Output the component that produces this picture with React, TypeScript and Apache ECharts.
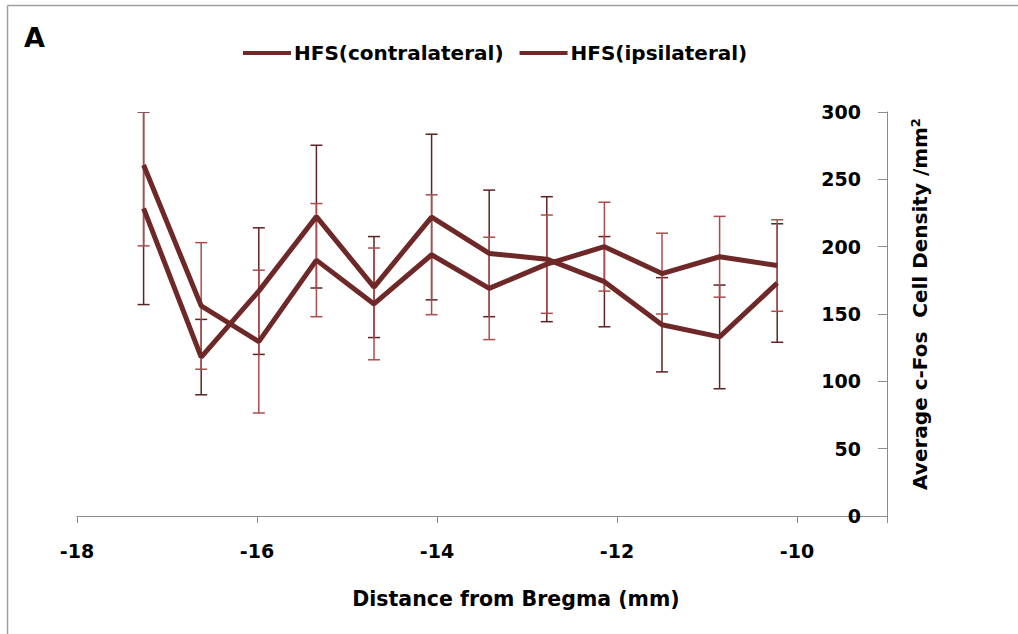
import React, { useEffect, useRef } from "react";
import * as echarts from "echarts";

// Distance from Bregma (mm)
const distances = [-17.26, -16.62, -15.98, -15.34, -14.7, -14.06, -13.42, -12.78, -12.14, -11.5, -10.86, -10.22];
// HFS (contralateral)
const contraMean = [260.6, 156, 129.5, 190, 157.5, 194, 169, 187, 200, 180, 192.5, 186];
const contraErr = [60, 47, 53, 42, 41.5, 44.5, 38, 36.5, 33, 30, 30, 34];
// HFS (ipsilateral)
const ipsiMean = [228.5, 118, 167, 222.3, 170, 222, 195, 190.7, 174, 142, 133, 173];
const ipsiErr = [71.5, 28, 47, 53, 37.5, 61.5, 47, 46.4, 33.5, 35, 38.5, 44];

const seriesNames = ["HFS(contralateral)", "HFS(ipsilateral)"];
const xTicks = { min: -18, max: -9, interval: 2 };
const yTicks = { min: 0, max: 300, interval: 50 };

const FONT = "DejaVu Sans";
const LINE_COLOR = "#6e2828";
const ERR_LIGHT = "#ad4c4c";
const ERR_DARK = "#5e2222";
const AXIS_COLOR = "#8c8c8c";

function errorSeries(means: number[], errs: number[], color: string, z: number) {
  return {
    type: "custom",
    name: "err" + z,
    z,
    clip: true,
    silent: true,
    encode: { x: 0, y: [1, 2] },
    data: distances.map((x, i) => [x, means[i] - errs[i], means[i] + errs[i]]),
    renderItem: (params: any, api: any) => {
      const x = api.value(0);
      const lo = api.coord([x, api.value(1)]);
      const hi = api.coord([x, api.value(2)]);
      const hw = 6;
      const style = { stroke: color, lineWidth: 1.5 };
      return {
        type: "group",
        children: [
          { type: "line", shape: { x1: hi[0], y1: hi[1], x2: lo[0], y2: lo[1] }, style },
          { type: "line", shape: { x1: hi[0] - hw, y1: hi[1], x2: hi[0] + hw, y2: hi[1] }, style },
          { type: "line", shape: { x1: lo[0] - hw, y1: lo[1], x2: lo[0] + hw, y2: lo[1] }, style },
        ],
      };
    },
  };
}

export default function App() {
  const ref = useRef<HTMLDivElement>(null);
  useEffect(() => {
    document.body.style.margin = "0";
    if (!ref.current) return;
    const chart = echarts.init(ref.current, undefined, { renderer: "svg" });
    chart.setOption({
      animation: false,
      backgroundColor: "#ffffff",
      grid: { left: 77, right: 131, top: 112, bottom: 118, containLabel: false },
      legend: {
        data: seriesNames,
        left: 238,
        top: 38,
        icon: "rect",
        itemWidth: 48,
        itemHeight: 4,
        itemGap: 16,
        textStyle: { fontFamily: FONT, fontWeight: "bold", fontSize: 20, color: "#000", padding: [0, 0, 0, -2] },
      },
      xAxis: {
        type: "value",
        min: xTicks.min,
        max: xTicks.max,
        interval: xTicks.interval,
        splitLine: { show: false },
        axisLine: { show: true, lineStyle: { color: AXIS_COLOR, width: 1 } },
        axisTick: { show: true, length: 7, lineStyle: { color: AXIS_COLOR } },
        axisLabel: {
          margin: 25,
          fontFamily: FONT,
          fontWeight: "bold",
          fontSize: 19,
          color: "#000",
          formatter: (v: number) => (v === xTicks.max ? "" : String(v)),
        },
      },
      yAxis: {
        type: "value",
        position: "right",
        min: yTicks.min,
        max: yTicks.max,
        interval: yTicks.interval,
        splitLine: { show: false },
        axisLine: { show: true, lineStyle: { color: AXIS_COLOR, width: 1 } },
        axisTick: { show: true, inside: true, length: 9, lineStyle: { color: AXIS_COLOR } },
        axisLabel: {
          inside: true,
          margin: 26,
          fontFamily: FONT,
          fontWeight: "bold",
          fontSize: 19,
          color: "#000",
        },
        name: "Average c-Fos  Cell Density /mm{sup|2}",
        nameLocation: "middle",
        nameRotate: 90,
        nameGap: 22,
        nameTextStyle: {
          fontFamily: FONT,
          fontWeight: "bold",
          fontSize: 20,
          color: "#000",
          padding: [0, 0, 0, 20],
          rich: {
            sup: { fontFamily: FONT, fontWeight: "bold", fontSize: 13, color: "#000", verticalAlign: "top", padding: [0, 0, 8, 0] },
          },
        },
      },
      graphic: [
        { type: "line", shape: { x1: 7.5, y1: 5.5, x2: 1018, y2: 5.5 }, style: { stroke: "#a0a0a0", lineWidth: 1.5 } },
        { type: "line", shape: { x1: 7.5, y1: 5.5, x2: 7.5, y2: 634 }, style: { stroke: "#a0a0a0", lineWidth: 1.5 } },
        {
          type: "text",
          left: 24,
          top: 24,
          style: { text: "A", font: `bold 27px "${FONT}"`, fill: "#000" },
        },
        {
          type: "text",
          x: 516,
          y: 599,
          style: {
            text: "Distance from Bregma (mm)",
            font: `bold 20.5px "${FONT}"`,
            fill: "#000",
            textAlign: "center",
            textVerticalAlign: "middle",
          },
        },
      ],
      series: [
        errorSeries(ipsiMean, ipsiErr, ERR_DARK, 2),
        errorSeries(contraMean, contraErr, ERR_LIGHT, 3),
        {
          type: "line",
          name: seriesNames[0],
          z: 5,
          data: distances.map((x, i) => [x, contraMean[i]]),
          symbol: "none",
          showSymbol: false,
          color: LINE_COLOR,
          lineStyle: { color: LINE_COLOR, width: 5 },
        },
        {
          type: "line",
          name: seriesNames[1],
          z: 5,
          data: distances.map((x, i) => [x, ipsiMean[i]]),
          symbol: "none",
          showSymbol: false,
          color: LINE_COLOR,
          lineStyle: { color: LINE_COLOR, width: 5 },
        },
      ],
    });
    return () => chart.dispose();
  }, []);
  return <div ref={ref} style={{ width: 1018, height: 634 }} />;
}
